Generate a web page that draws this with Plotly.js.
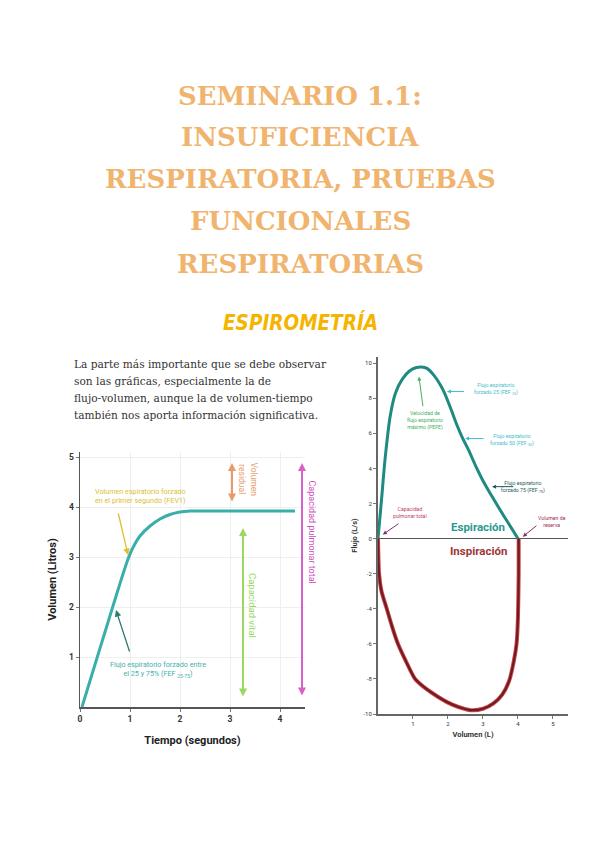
<!DOCTYPE html>
<html>
<head>
<meta charset="utf-8">
<script src="https://cdn.plot.ly/plotly-3.0.1.min.js"></script>
<style>
  html, body { margin: 0; padding: 0; background: #ffffff; }
  #chart { width: 600px; height: 848px; }
</style>
</head>
<body>
<div id="chart"></div>
<script>
// ---------- Data ----------
// Volume-time curve (left chart)
const timeS = [0.04, 0.3, 0.5, 0.7, 0.85, 0.95, 1.05, 1.2, 1.4, 1.6, 1.8, 2.0, 2.2, 3.0, 4.3];
const volL  = [0.0, 0.85, 1.5, 2.15, 2.63, 2.93, 3.17, 3.42, 3.62, 3.76, 3.85, 3.9, 3.92, 3.92, 3.92];

// Flow-volume loop (right chart): expiration
const expVol  = [0, 0.1, 0.2, 0.35, 0.5, 0.7, 0.9, 1.1, 1.25, 1.4, 1.6, 1.8, 1.9, 2.1, 2.25, 2.4, 2.6, 2.8, 3.0, 3.2, 3.5, 3.75, 4.0];
const expFlow = [0, 2.2, 4.5, 7.0, 8.3, 9.1, 9.55, 9.75, 9.78, 9.7, 9.3, 8.7, 8.3, 7.3, 6.5, 5.8, 5.0, 4.1, 3.3, 2.6, 1.6, 0.8, 0];
// Flow-volume loop (right chart): inspiration
const insVol  = [0, 0.03, 0.1, 0.25, 0.4, 0.57, 0.8, 1.06, 1.4, 1.7, 2.0, 2.3, 2.65, 3.0, 3.3, 3.55, 3.75, 3.88, 3.96, 4.0, 4.02, 4.02];
const insFlow = [0, -2, -3, -4, -5, -6, -7, -8, -8.6, -9.0, -9.35, -9.6, -9.78, -9.7, -9.4, -8.9, -8.1, -7, -6, -4.5, -2, 0];

// Tick values
const leftXTicks  = [0, 1, 2, 3, 4];
const leftYTicks  = [1, 2, 3, 4, 5];
const rightXTicks = [1, 2, 3, 4, 5];
const rightYTicks = [-10, -8, -6, -4, -2, 0, 2, 4, 6, 8, 10];

// Text content
const titleLines = ["SEMINARIO 1.1:", "INSUFICIENCIA", "RESPIRATORIA, PRUEBAS", "FUNCIONALES", "RESPIRATORIAS"];
const subtitle = "ESPIROMETRÍA";
const paragraphLines = [
  "La parte más importante que se debe observar",
  "son las gráficas, especialmente la de",
  "flujo-volumen, aunque la de volumen-tiempo",
  "también nos aporta información significativa."
];

// ---------- Helpers ----------
const W = 600, H = 848;
const px = v => v / W;
const py = v => 1 - v / H;

const traces = [
  { x: timeS, y: volL, xaxis: 'x', yaxis: 'y', mode: 'lines',
    line: { color: '#3aaea8', width: 3, shape: 'spline', smoothing: 0.6 }, hoverinfo: 'skip', showlegend: false },
  { x: insVol, y: insFlow, xaxis: 'x2', yaxis: 'y2', mode: 'lines',
    line: { color: '#d0484a', width: 4, shape: 'spline', smoothing: 0.6 }, hoverinfo: 'skip', showlegend: false },
  { x: insVol, y: insFlow, xaxis: 'x2', yaxis: 'y2', mode: 'lines',
    line: { color: '#6e1c22', width: 2.2, shape: 'spline', smoothing: 0.6 }, hoverinfo: 'skip', showlegend: false },
  { x: expVol, y: expFlow, xaxis: 'x2', yaxis: 'y2', mode: 'lines',
    line: { color: '#1f8a80', width: 3, shape: 'spline', smoothing: 0.6 }, hoverinfo: 'skip', showlegend: false }
];

const ann = [];
// Title
const titleY = [96, 137, 179, 221, 264];
titleLines.forEach((t, i) => ann.push({
  xref: 'paper', yref: 'paper', x: 0.5, y: py(titleY[i]), xanchor: 'center', yanchor: 'middle',
  text: '<b>' + t + '</b>', showarrow: false,
  font: { family: 'DejaVu Serif', size: 26, color: '#f0b46e' }
}));
ann.push({
  xref: 'paper', yref: 'paper', x: 0.5, y: py(322), xanchor: 'center', yanchor: 'middle',
  text: '<b><i>' + subtitle + '</i></b>', showarrow: false,
  font: { family: 'DejaVu Sans Condensed, sans-serif', size: 20.5, color: '#f4b400' }
});
// Paragraph
const paraY = [364, 381, 398, 415];
paragraphLines.forEach((t, i) => ann.push({
  xref: 'paper', yref: 'paper', x: px(72), y: py(paraY[i]), xanchor: 'left', yanchor: 'middle',
  text: t, showarrow: false, font: { family: 'DejaVu Serif', size: 10.6, color: '#333333' }
}));

// Left chart annotations
function arrow(xr, yr, x, y, ax, ay, color, opts) {
  return Object.assign({ xref: xr, yref: yr, axref: xr, ayref: yr, x: x, y: y, ax: ax, ay: ay, text: '',
    showarrow: true, arrowhead: 2, arrowsize: 1, arrowwidth: 1.3, arrowcolor: color }, opts || {});
}
ann.push({ xref: 'x', yref: 'y', x: 0.25, y: 4.22, xanchor: 'left', yanchor: 'middle', showarrow: false, align: 'left',
  text: 'Volumen espiratorio forzado<br>en el primer segundo (FEV1)',
  font: { family: 'Roboto, sans-serif', size: 7.2, color: '#dcc030' } });
ann.push(arrow('x', 'y', 0.96, 3.04, 0.76, 3.9, '#dcc030'));
ann.push({ xref: 'x', yref: 'y', x: 1.56, y: 0.76, xanchor: 'center', yanchor: 'middle', showarrow: false, align: 'center',
  text: 'Flujo espiratorio forzado entre<br>el 25 y 75% (FEF <sub>25-75</sub>)',
  font: { family: 'Roboto, sans-serif', size: 7.2, color: '#3fb0a8' } });
ann.push(arrow('x', 'y', 0.72, 1.94, 1.0, 1.08, '#2a7a70'));
// Double arrows
ann.push(arrow('x', 'y', 3.04, 4.88, 3.04, 4.08, '#e89a6a', { arrowside: 'end+start', arrowwidth: 2, arrowsize: 0.8 }));
ann.push({ xref: 'x', yref: 'y', x: 3.37, y: 4.56, textangle: 90, showarrow: false, align: 'center',
  text: 'Volumen<br>residual', font: { family: 'Roboto, sans-serif', size: 8.5, color: '#e8a070' } });
ann.push(arrow('x', 'y', 3.26, 3.58, 3.26, 0.18, '#9ad860', { arrowside: 'end+start', arrowwidth: 2, arrowsize: 0.8 }));
ann.push({ xref: 'x', yref: 'y', x: 3.46, y: 2.04, textangle: 90, showarrow: false,
  text: 'Capacidad vital', font: { family: 'Roboto, sans-serif', size: 9.5, color: '#9ad860' } });
ann.push(arrow('x', 'y', 4.44, 4.88, 4.44, 0.2, '#d860c8', { arrowside: 'end+start', arrowwidth: 2, arrowsize: 0.8 }));
ann.push({ xref: 'paper', yref: 'paper', x: px(312), y: py(585), textangle: 90, showarrow: false,
  text: 'Capacidad pulmonar total', font: { family: 'Roboto, sans-serif', size: 9, color: '#d050c0' } });

// Right chart annotations
const fs = { family: 'Roboto, sans-serif', size: 5.2 };
ann.push({ xref: 'x2', yref: 'y2', x: 3.38, y: 8.55, showarrow: false, align: 'center',
  text: 'Flujo espiratorio<br>forzado 25 (FEF <sub>25</sub>)', font: Object.assign({ color: '#40bccc' }, fs) });
ann.push(arrow('x2', 'y2', 1.97, 8.38, 2.5, 8.38, '#40bccc', { arrowwidth: 1, arrowsize: 0.8 }));
ann.push({ xref: 'x2', yref: 'y2', x: 1.34, y: 6.72, showarrow: false, align: 'center',
  text: 'Velocidad de<br>flujo espiratorio<br>máximo (PEFE)', font: Object.assign({ color: '#40b060' }, fs) });
ann.push(arrow('x2', 'y2', 1.17, 9.23, 1.29, 7.46, '#40b060', { arrowwidth: 1, arrowsize: 0.8 }));
ann.push({ xref: 'x2', yref: 'y2', x: 3.83, y: 5.6, showarrow: false, align: 'center',
  text: 'Flujo espiratorio<br>forzado 50 (FEF <sub>50</sub>)', font: Object.assign({ color: '#40bccc' }, fs) });
ann.push(arrow('x2', 'y2', 2.49, 5.7, 3.06, 5.7, '#40bccc', { arrowwidth: 1, arrowsize: 0.8 }));
ann.push({ xref: 'paper', yref: 'paper', x: px(547), y: py(487), showarrow: false, align: 'center',
  text: 'Flujo espiratorio<br>forzado 75 (FEF <sub>75</sub>)', font: Object.assign({ color: '#1d5a58' }, fs) });
ann.push(arrow('x2', 'y2', 3.26, 2.96, 3.91, 2.96, '#1d5a58', { arrowwidth: 1, arrowsize: 0.8 }));
ann.push({ xref: 'x2', yref: 'y2', x: 0.91, y: 1.48, showarrow: false, align: 'center',
  text: 'Capacidad<br>pulmonar total', font: Object.assign({ color: '#c04062' }, fs) });
ann.push(arrow('x2', 'y2', 0.14, 0.23, 0.63, 0.91, '#7a3068', { arrowwidth: 1, arrowsize: 0.8 }));
ann.push({ xref: 'x2', yref: 'y2', x: 4.97, y: 1.0, showarrow: false, align: 'center',
  text: 'Volumen de<br>reserva', font: Object.assign({ color: '#a03050' }, fs) });
ann.push(arrow('x2', 'y2', 4.14, 0.11, 4.57, 0.8, '#7a3068', { arrowwidth: 1, arrowsize: 0.8 }));
ann.push({ xref: 'x2', yref: 'y2', x: 2.86, y: 0.68, showarrow: false,
  text: '<b>Espiración</b>', font: { family: 'Roboto, sans-serif', size: 11.5, color: '#2a9a90' } });
ann.push({ xref: 'x2', yref: 'y2', x: 2.86, y: -0.7, showarrow: false,
  text: '<b>Inspiración</b>', font: { family: 'Roboto, sans-serif', size: 11.5, color: '#a03838' } });

const layout = {
  width: W, height: H,
  margin: { l: 0, r: 0, t: 0, b: 0 },
  paper_bgcolor: '#ffffff', plot_bgcolor: '#ffffff',
  showlegend: false,
  xaxis: {
    domain: [px(80), px(305)], range: [0, 4.5], anchor: 'y',
    tickvals: leftXTicks, ticktext: leftXTicks.map(String),
    showgrid: true, gridcolor: '#efefef', gridwidth: 1, zeroline: false,
    showline: true, linecolor: '#555555', linewidth: 1.5,
    ticks: 'outside', ticklen: 3, tickcolor: '#777777',
    tickfont: { family: 'Roboto, sans-serif', size: 8.5, color: '#333333', weight: 'bold' },
    title: { text: '<b>Tiempo (segundos)</b>', standoff: 13, font: { family: 'Roboto, sans-serif', size: 11, color: '#222222' } }
  },
  yaxis: {
    domain: [py(707), py(452)], range: [0, 5.1], anchor: 'x',
    tickvals: leftYTicks, ticktext: leftYTicks.map(String),
    showgrid: true, gridcolor: '#efefef', gridwidth: 1, zeroline: false,
    showline: true, linecolor: '#555555', linewidth: 1.5,
    ticks: 'outside', ticklen: 3, tickcolor: '#777777',
    tickfont: { family: 'Roboto, sans-serif', size: 8.5, color: '#333333', weight: 'bold' },
    title: { text: '<b>Volumen (Litros)</b>', standoff: 10, font: { family: 'Roboto, sans-serif', size: 11, color: '#222222' } }
  },
  xaxis2: {
    domain: [px(378), px(568)], range: [0, 5.43], anchor: 'y2',
    tickvals: rightXTicks, ticktext: rightXTicks.map(String),
    showgrid: false, zeroline: false,
    showline: true, linecolor: '#666666', linewidth: 2,
    ticks: 'outside', ticklen: 3, tickcolor: '#777777',
    tickfont: { family: 'Roboto, sans-serif', size: 6, color: '#333333' },
    title: { text: '<b>Volumen (L)</b>', standoff: 6, font: { family: 'Roboto, sans-serif', size: 7.5, color: '#333333' } }
  },
  yaxis2: {
    domain: [py(714), py(357)], range: [-10, 10.35], anchor: 'x2',
    tickvals: rightYTicks, ticktext: rightYTicks.map(String),
    showgrid: false, zeroline: true, zerolinecolor: '#555555', zerolinewidth: 1.5,
    showline: true, linecolor: '#666666', linewidth: 2,
    ticks: 'outside', ticklen: 3, tickcolor: '#777777',
    tickfont: { family: 'Roboto, sans-serif', size: 6, color: '#333333' },
    title: { text: '<b>Flujo (L/s)</b>', standoff: 5, font: { family: 'Roboto, sans-serif', size: 7.5, color: '#333333' } }
  },
  annotations: ann
};

Plotly.newPlot('chart', traces, layout, { staticPlot: true, displayModeBar: false });
</script>
</body>
</html>
